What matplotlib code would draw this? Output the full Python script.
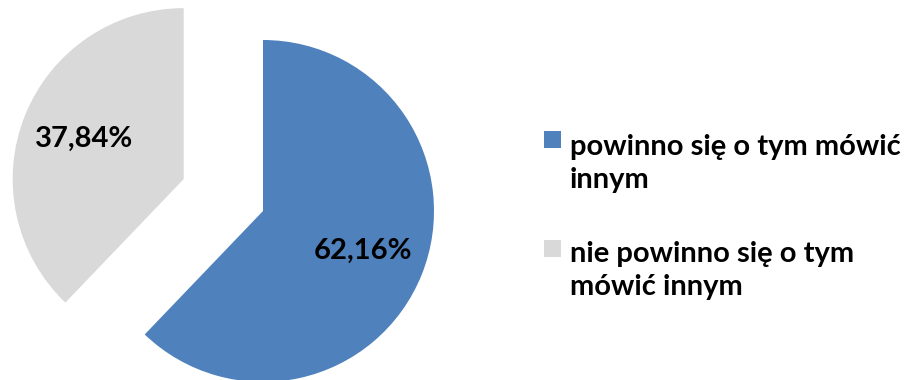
import matplotlib
matplotlib.use("Agg")
import matplotlib.pyplot as plt
from matplotlib.patches import Rectangle

# opinion shares (percent)
categories = ["powinno się o tym mówić\ninnym",
              "nie powinno się o tym\nmówić innym"]
shares = [62.16, 37.84]
colors = ["#4F81BD", "#D9D9D9"]
explode = [0.0, 0.5]

plt.rcParams['font.family'] = ['Lato', 'DejaVu Sans']

W, H = 917, 380
fig = plt.figure(figsize=(W / 100.0, H / 100.0), dpi=100)
ax = fig.add_axes([0, 0, 1, 1])

# pie geometry in pixels
R = 171.0
cx, cy = 263.0, 211.0   # centre, measured from top-left

wedges, texts, autotexts = ax.pie(
    shares, colors=colors, explode=explode, startangle=90,
    counterclock=False, radius=1.0, pctdistance=0.63,
    autopct=lambda p: ("%.2f%%" % p).replace(".", ","),
    wedgeprops=dict(linewidth=0),
    textprops=dict(fontsize=21, fontweight='bold', color='black'))

ax.set_xlim(-cx / R, (W - cx) / R)
ax.set_ylim(-(H - cy) / R, cy / R)
ax.set_aspect('equal')
ax.axis('off')

# legend, drawn by hand so the marker sits on the first text line
sq = 17
first_base = [148, 257]   # baseline of first line (px from top)
last_base = [188, 295]    # baseline of second line
for lab, col, y1, y2 in zip(categories, colors, first_base, last_base):
    fig.patches.append(Rectangle((544 / W, (H - y1) / H), sq / W, sq / H,
                                 transform=fig.transFigure, color=col,
                                 linewidth=0))
    fig.text(570 / W, (H - y2) / H, lab, fontsize=21, fontweight='bold',
             va='baseline', ha='left', linespacing=1.33)

fig.savefig("out.png", dpi=100)
